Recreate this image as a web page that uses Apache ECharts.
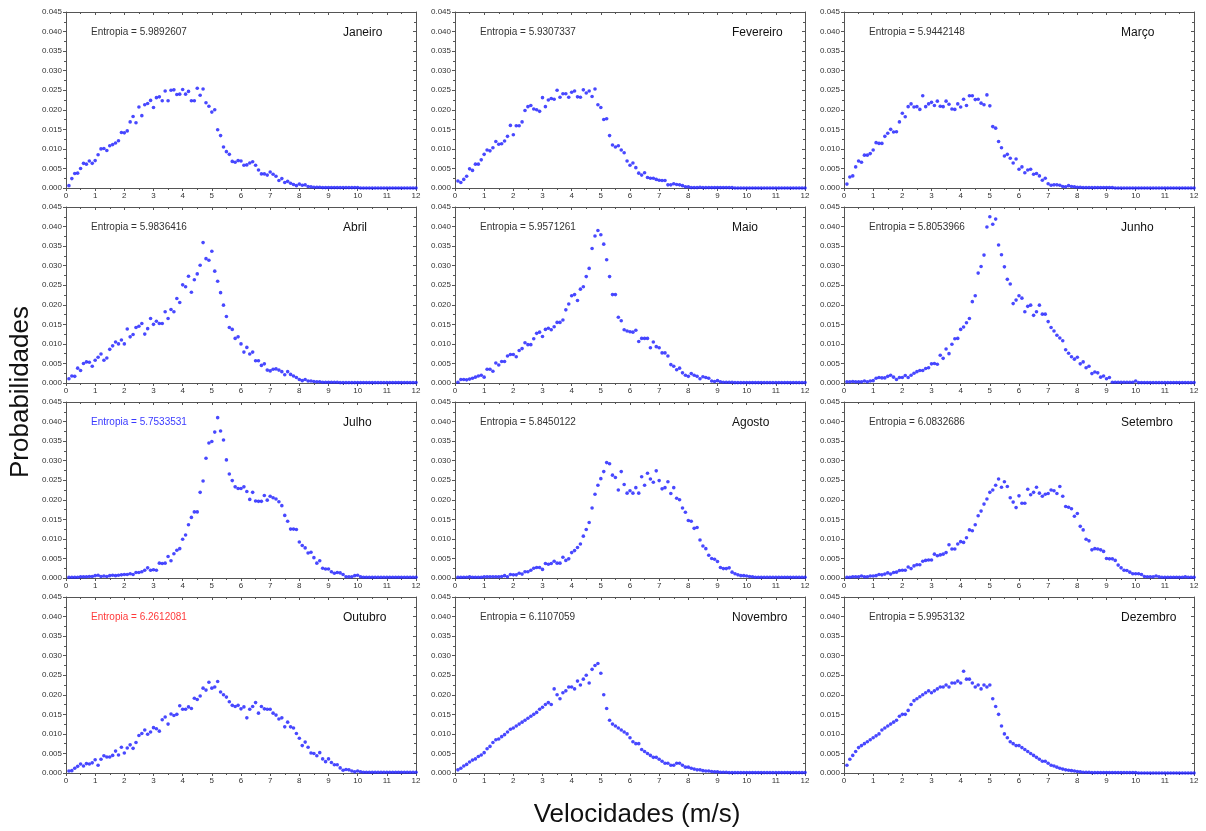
<!DOCTYPE html>
<html>
<head>
<meta charset="utf-8">
<script src="https://cdn.jsdelivr.net/npm/echarts@6/dist/echarts.min.js"></script>
<style>
html, body { margin: 0; padding: 0; background: #fff; }
#box1 { width: 1206px; height: 831px; }
</style>
</head>
<body>
<div id="box1"></div>
<script>
/* distribuição de velocidades por mês */
var months = ['Janeiro', 'Fevereiro', 'Março', 'Abril', 'Maio', 'Junho',
              'Julho', 'Agosto', 'Setembro', 'Outubro', 'Novembro', 'Dezembro'];
var entropias = ['5.9892607', '5.9307337', '5.9442148', '5.9836416', '5.9571261', '5.8053966',
                 '5.7533531', '5.8450122', '6.0832686', '6.2612081', '6.1107059', '5.9953132'];
var xTicks = [0, 1, 2, 3, 4, 5, 6, 7, 8, 9, 10, 11, 12];
var yTicks = [0, 0.005, 0.010, 0.015, 0.020, 0.025, 0.030, 0.035, 0.040, 0.045];

// probabilidades x 1000, bins de 0.1 a 12.0 m/s
var jan = [0.6,2.4,3.7,3.8,5.0,6.3,6.1,6.9,6.3,7.0,
  8.5,10.0,10.1,9.6,10.8,11.1,11.5,12.1,14.2,14.1,
  14.6,16.9,18.3,16.7,20.7,18.5,21.3,21.6,22.4,20.6,
  23.1,23.3,22.3,24.8,22.3,25.0,25.1,23.9,24.0,25.2,
  24.0,24.7,22.3,22.3,25.5,23.7,25.3,21.8,20.9,19.4,
  20.0,14.9,13.4,10.5,9.3,8.6,6.8,6.6,7.0,6.9,
  5.8,5.9,6.4,6.7,5.8,4.6,3.6,3.6,3.3,4.1,
  3.5,3.0,1.9,2.4,1.4,1.7,1.2,0.9,0.6,1.0,
  0.7,0.8,0.4,0.3,0.2,0.2,0.2,0.1,0.1,0.1,
  0.1,0.1,0.1,0.1,0.1,0.1,0.1,0.1,0.1,0.1,
  0,0,0,0,0,0,0,0,0,0,
  0,0,0,0,0,0,0,0,0,0];
var fev = [1.8,1.4,2.2,3.0,4.9,4.5,6.1,6.1,7.2,8.6,
  9.7,9.5,10.3,11.9,11.2,11.3,12.0,13.2,16.0,13.6,
  15.9,15.9,16.9,19.8,20.8,21.1,20.2,20.0,19.6,23.1,
  20.8,22.5,22.9,22.7,25.0,23.2,24.1,24.1,23.2,24.5,
  24.8,23.3,23.2,25.1,24.3,24.8,23.4,25.3,21.3,20.6,
  17.5,17.7,13.4,11.0,10.5,10.8,9.7,9.0,6.9,5.8,
  6.4,5.2,3.8,3.3,3.9,2.7,2.5,2.5,2.2,2.0,
  1.9,1.9,0.8,0.8,1.1,0.9,0.8,0.6,0.3,0.3,
  0.1,0.1,0.1,0.2,0.1,0.1,0.1,0.1,0.1,0.1,
  0.1,0.1,0.1,0.1,0.1,0,0,0,0,0,
  0,0,0,0,0,0,0,0,0,0,
  0,0,0,0,0,0,0,0,0,0];
var mar = [1.0,2.8,3.1,5.4,6.9,6.6,8.4,8.4,8.8,9.7,
  11.6,11.4,11.4,13.2,14.0,15.0,14.3,14.4,16.9,19.1,
  18.2,20.8,21.5,20.7,20.8,20.1,23.6,20.8,21.5,21.9,
  21.1,22.2,20.9,20.8,22.2,21.4,20.2,20.1,21.5,20.7,
  22.7,21.1,23.6,23.6,22.6,22.7,21.7,21.3,23.8,21.0,
  15.7,15.3,11.9,10.3,8.2,8.6,7.6,6.4,7.4,4.8,
  5.4,3.9,4.6,4.8,3.5,3.7,3.1,2.0,2.5,1.1,
  0.7,0.8,0.8,0.7,0.4,0.3,0.6,0.4,0.3,0.2,
  0.2,0.1,0.1,0.1,0.1,0.1,0.1,0.1,0.1,0.1,
  0.1,0.1,0,0,0,0,0,0,0,0,
  0,0,0,0,0,0,0,0,0,0,
  0,0,0,0,0,0,0,0,0,0];
var abr = [1.1,1.8,1.7,3.8,3.2,5.0,5.4,5.3,4.3,5.8,
  6.6,7.4,5.8,6.4,8.6,9.5,10.5,10.0,11.0,10.0,
  13.8,11.8,12.4,14.2,14.5,15.2,12.5,13.9,16.5,15.0,
  15.8,15.2,15.2,18.2,16.5,18.8,18.2,21.6,20.6,25.1,
  24.6,27.3,23.2,26.4,27.9,30.1,35.9,31.8,31.4,33.7,
  28.6,26.0,23.1,19.9,17.0,14.2,13.7,11.4,11.8,10.0,
  7.9,9.1,7.4,7.9,5.7,5.7,4.5,4.9,3.3,3.1,
  3.5,3.6,3.3,2.9,2.1,2.9,2.2,1.8,1.4,0.9,
  0.6,0.9,0.5,0.5,0.4,0.3,0.3,0.2,0.2,0.2,
  0.2,0.2,0.2,0.1,0.1,0.1,0.1,0.1,0.1,0.1,
  0.1,0.1,0.1,0.1,0.1,0.1,0.1,0.1,0.1,0.1,
  0.1,0.1,0.1,0.1,0.1,0.1,0.1,0.1,0.1,0.1];
var mai = [0.2,0.9,0.9,0.8,1.0,1.2,1.5,1.8,2.0,1.5,
  3.5,3.5,3.0,5.1,4.6,5.5,5.5,6.9,7.3,7.3,
  6.7,8.3,8.8,10.3,9.8,9.8,11.3,12.7,13.0,11.9,
  13.7,14.0,13.6,14.4,15.5,15.5,16.1,18.7,20.2,22.3,
  22.6,21.1,24.0,24.6,27.2,29.3,34.4,37.6,39.0,37.9,
  35.5,31.5,27.2,22.6,22.6,16.8,15.9,13.6,13.3,13.1,
  13.0,13.5,10.6,11.4,11.4,11.4,9.0,10.5,9.3,9.0,
  7.7,7.7,6.9,4.7,4.3,3.4,3.8,2.6,2.0,1.7,
  2.4,2.0,1.7,1.1,1.6,1.4,1.2,0.5,0.4,0.6,
  0.3,0.2,0.2,0.2,0.2,0.1,0.1,0.1,0.1,0.1,
  0.1,0.1,0.1,0.1,0.1,0.1,0.1,0.1,0.1,0.1,
  0.1,0.1,0.1,0.1,0.1,0.1,0.1,0.1,0.1,0.1];
var jun = [0.3,0.3,0.4,0.3,0.3,0.3,0.5,0.3,0.5,0.6,
  1.2,1.4,1.3,1.3,1.7,2.0,1.5,0.9,1.4,1.4,
  1.9,1.4,2.0,2.5,2.9,3.2,3.2,3.7,3.9,4.9,
  5.0,4.8,7.1,6.3,8.7,7.5,9.9,11.3,11.4,13.7,
  14.3,15.4,16.5,20.8,22.3,28.1,29.8,32.7,39.9,42.5,
  40.6,41.9,35.3,32.8,29.7,26.5,25.3,20.3,21.2,22.3,
  21.7,18.2,19.6,19.9,17.3,18.2,19.9,17.6,17.6,15.7,
  14.2,13.3,12.2,11.5,10.8,8.5,7.6,6.7,6.1,6.6,
  4.9,5.4,3.9,4.3,2.4,2.8,2.6,1.5,1.8,1.1,
  1.4,0.2,0.2,0.2,0.2,0.2,0.2,0.2,0.2,0.5,
  0.1,0.1,0.1,0.1,0.1,0.1,0.1,0.1,0.1,0.1,
  0.1,0.1,0.1,0.1,0.1,0.1,0.1,0.1,0.1,0.1];
var jul = [0.2,0.2,0.2,0.2,0.3,0.3,0.3,0.4,0.4,0.6,
  0.7,0.4,0.5,0.4,0.6,0.7,0.6,0.7,0.8,0.9,
  0.9,1.1,0.9,1.4,1.4,1.6,2.0,2.6,2.0,2.1,
  2.0,3.8,3.7,3.8,5.5,4.4,6.2,7.1,7.5,9.9,
  11.0,13.6,15.5,16.9,16.9,21.9,24.8,30.6,34.5,34.9,
  37.3,41.0,37.6,35.3,30.2,26.6,24.9,23.3,22.9,22.9,
  23.3,22.1,20.1,21.9,19.7,19.6,19.6,21.1,19.9,20.9,
  20.5,20.2,19.5,18.5,16.0,14.5,12.5,12.5,12.4,9.2,
  8.3,7.7,6.4,6.6,5.2,3.8,4.4,2.5,2.3,2.3,
  1.6,1.2,1.4,1.3,0.9,0.3,0.3,0.3,0.6,0.7,
  0.3,0.2,0.2,0.2,0.2,0.2,0.2,0.2,0.2,0.2,
  0.2,0.2,0.2,0.2,0.2,0.2,0.2,0.2,0.2,0.2];
var ago = [0.2,0.2,0.2,0.2,0.3,0.2,0.2,0.2,0.2,0.3,
  0.3,0.3,0.3,0.3,0.3,0.4,0.6,0.3,0.9,0.8,
  0.8,1.2,1.0,1.6,1.6,2.0,2.5,2.7,2.7,2.2,
  3.7,3.5,3.7,4.3,3.8,3.8,5.3,4.5,4.9,6.5,
  7.0,7.8,8.7,10.7,12.4,14.2,17.9,21.4,23.7,25.4,
  27.2,29.5,29.2,26.3,25.7,22.5,27.2,23.9,21.7,22.3,
  21.7,23.1,21.7,25.9,23.7,26.8,25.3,24.5,27.4,24.9,
  22.8,23.1,24.6,21.6,23.1,20.4,20.0,17.9,16.8,14.7,
  14.5,12.7,12.9,9.7,8.2,7.5,5.8,5.0,4.8,4.2,
  2.7,2.4,2.4,2.6,1.5,1.1,0.8,0.6,0.6,0.5,
  0.4,0.3,0.2,0.2,0.2,0.2,0.2,0.2,0.2,0.2,
  0.2,0.2,0.2,0.2,0.2,0.2,0.2,0.2,0.2,0.2];
var set = [0.2,0.2,0.3,0.3,0.3,0.5,0.3,0.3,0.5,0.5,
  0.6,0.9,0.8,1.0,1.3,1.0,1.4,1.5,1.9,2.0,
  2.0,2.8,2.4,3.1,3.4,3.4,4.3,4.5,4.6,4.6,
  6.1,5.7,5.9,6.1,6.5,8.5,7.4,7.4,8.7,9.3,
  9.1,10.3,12.3,12.1,13.6,15.9,17.1,18.9,20.2,21.9,
  22.5,23.7,25.3,23.2,24.6,23.4,20.5,19.4,18.0,21.0,
  19.1,19.1,22.7,21.3,21.9,23.2,21.7,20.9,21.4,21.6,
  22.5,22.3,21.6,23.4,20.9,18.3,18.1,17.7,15.8,16.5,
  13.2,12.3,9.9,9.5,7.2,7.5,7.4,7.2,6.8,5.0,
  4.9,4.9,4.5,3.3,2.6,2.0,1.9,1.5,1.1,1.1,
  1.1,0.9,0.4,0.3,0.3,0.3,0.5,0.3,0.2,0.2,
  0.2,0.2,0.2,0.2,0.2,0.2,0.3,0.2,0.2,0.2];
var out = [0.5,0.6,1.2,1.7,2.3,1.8,2.4,2.3,2.6,3.4,
  2.0,3.5,4.4,4.1,4.1,4.5,5.6,4.6,6.6,5.1,
  6.4,7.2,6.3,7.8,9.6,10.1,11.0,9.9,10.5,11.6,
  11.3,10.7,13.6,14.3,12.5,15.1,14.7,15.0,17.2,16.3,
  16.3,16.9,16.5,19.1,18.8,19.7,21.7,21.2,23.2,21.7,
  22.0,23.4,20.7,20.0,19.4,18.2,17.3,17.0,17.3,16.4,
  16.9,14.1,16.3,17.0,18.0,15.3,17.0,16.4,16.3,16.3,
  15.3,14.8,13.8,14.1,11.8,13.0,11.8,11.5,10.1,8.9,
  7.0,7.9,6.6,5.1,5.0,4.4,5.2,3.6,2.9,3.6,
  2.7,2.1,2.1,1.3,0.7,0.9,0.8,0.5,0.3,0.5,
  0.3,0.2,0.2,0.2,0.2,0.2,0.2,0.2,0.2,0.2,
  0.2,0.2,0.2,0.2,0.2,0.2,0.2,0.2,0.2,0.2];
var nov = [0.8,1.2,1.8,2.2,2.8,3.3,3.6,4.2,4.6,5.2,
  6.2,6.8,7.8,8.5,8.7,9.3,9.8,10.5,11.2,11.5,
  12.0,12.5,13.0,13.5,14.0,14.5,15.0,15.5,16.3,16.8,
  17.5,18.0,17.5,21.5,20.0,19.0,20.5,21.0,22.0,22.0,
  21.5,23.5,22.5,24.0,25.0,23.0,26.5,27.5,28.0,25.5,
  20.0,16.5,13.5,12.5,12.0,11.5,11.0,10.5,10.0,9.0,
  8.0,7.5,7.5,6.0,5.5,5.0,4.5,4.0,4.0,3.5,
  3.0,2.5,2.5,2.0,2.0,2.5,2.5,2.0,1.5,1.5,
  1.2,1.0,0.8,0.8,0.6,0.5,0.5,0.4,0.3,0.3,
  0.2,0.2,0.2,0.1,0.1,0.1,0.1,0.1,0.1,0.1,
  0.1,0.1,0.1,0.1,0.1,0.1,0.1,0.1,0.1,0.1,
  0.1,0.1,0.1,0.1,0.1,0.1,0.1,0.1,0.1,0.1];
var dez = [2.0,3.5,4.5,5.5,6.5,7.0,7.5,8.0,8.5,9.0,
  9.5,10.0,11.0,11.5,12.0,12.5,13.0,13.5,14.5,15.0,
  15.0,16.0,17.5,18.5,19.0,19.5,20.0,20.5,21.0,20.5,
  21.0,21.5,22.0,22.0,22.5,22.0,23.0,23.0,23.5,23.0,
  26.0,24.0,24.0,23.0,22.0,22.5,21.5,22.5,22.0,22.5,
  19.0,17.0,15.0,12.0,10.0,9.0,8.0,7.5,7.0,7.0,
  6.5,6.0,5.5,5.0,4.5,4.0,3.5,3.0,3.0,2.5,
  2.0,1.8,1.5,1.2,1.0,0.8,0.7,0.6,0.5,0.4,
  0.3,0.2,0.2,0.2,0.1,0.1,0.1,0.1,0.1,0.1,
  0.1,0.1,0.1,0.1,0.1,0.1,0.1,0.1,0.1,0.1,
  0,0,0,0,0,0,0,0,0,0,
  0,0,0,0,0,0,0,0,0,0];
var probs = [jan, fev, mar, abr, mai, jun, jul, ago, set, out, nov, dez];

var dom = document.getElementById("box1");
var myChart = echarts.init(dom);

var colLeft = [66, 455, 844];
var rowTop = [12, 207, 402, 597];
var lineColor = '#555';
var labelFont = { fontSize: 8, color: '#333', fontFamily: 'Liberation Sans, Arial' };

var grids = [], xAxes = [], yAxes = [], series = [], graphics = [];

for (var k = 0; k < 12; k++) {
    var l = colLeft[k % 3], t = rowTop[Math.floor(k / 3)];
    grids.push({ left: l, top: t, width: 350, height: 176 });

    // eixo de baixo (com números) e de cima (só marcas)
    xAxes.push({
        gridIndex: k, type: 'value', position: 'bottom',
        min: xTicks[0], max: xTicks[xTicks.length - 1], interval: 1,
        axisLine: { onZero: false, lineStyle: { color: lineColor, width: 1 } },
        axisTick: { inside: false, length: 3, lineStyle: { color: lineColor } },
        minorTick: { show: true, splitNumber: 2, length: 2, lineStyle: { color: lineColor } },
        axisLabel: Object.assign({ margin: 4 }, labelFont),
        splitLine: { show: false }
    });
    xAxes.push({
        gridIndex: k, type: 'value', position: 'top',
        min: xTicks[0], max: xTicks[xTicks.length - 1], interval: 1,
        axisLine: { onZero: false, lineStyle: { color: lineColor, width: 1 } },
        axisTick: { inside: true, length: 3, lineStyle: { color: lineColor } },
        minorTick: { show: true, splitNumber: 2, length: 2, lineStyle: { color: lineColor } },
        axisLabel: { show: false },
        splitLine: { show: false }
    });
    yAxes.push({
        gridIndex: k, type: 'value', position: 'left',
        min: yTicks[0], max: yTicks[yTicks.length - 1], interval: 0.005,
        axisLine: { onZero: false, lineStyle: { color: lineColor, width: 1 } },
        axisTick: { inside: false, length: 3, lineStyle: { color: lineColor } },
        minorTick: { show: true, splitNumber: 2, length: 2, lineStyle: { color: lineColor } },
        axisLabel: Object.assign({ margin: 4, formatter: function (v) { return v.toFixed(3); } }, labelFont),
        splitLine: { show: false }
    });
    yAxes.push({
        gridIndex: k, type: 'value', position: 'right',
        min: yTicks[0], max: yTicks[yTicks.length - 1], interval: 0.005,
        axisLine: { onZero: false, lineStyle: { color: lineColor, width: 1 } },
        axisTick: { inside: true, length: 3, lineStyle: { color: lineColor } },
        minorTick: { show: true, splitNumber: 2, length: 2, lineStyle: { color: lineColor } },
        axisLabel: { show: false },
        splitLine: { show: false }
    });

    series.push({
        type: 'scatter',
        xAxisIndex: 2 * k, yAxisIndex: 2 * k,
        symbol: 'circle', symbolSize: 3.6,
        itemStyle: { color: '#1a1aff' },
        silent: true,
        data: probs[k].map(function (v, i) { return [(i + 1) / 10, v / 1000]; })
    });

    var entColor = '#333';
    if (months[k] === 'Julho') entColor = '#3a3aff';
    if (months[k] === 'Outubro') entColor = '#ff3a3a';
    graphics.push({
        type: 'text', left: l + 25, top: t + 15,
        style: { text: 'Entropia = ' + entropias[k], fill: entColor,
                 font: '10px "Liberation Sans", Arial' }
    });
    graphics.push({
        type: 'text', left: l + 277, top: t + 15,
        style: { text: months[k], fill: '#111', font: '12px "Liberation Sans", Arial' }
    });
}

// títulos dos eixos
graphics.push({
    type: 'text', x: 637, y: 815,
    style: { text: 'Velocidades (m/s)', fill: '#111', font: '26px "Liberation Sans", Arial',
             align: 'center', verticalAlign: 'middle' }
});
graphics.push({
    type: 'text', x: 21, y: 392, rotation: Math.PI / 2,
    style: { text: 'Probabilidades', fill: '#111', font: '26px "Liberation Sans", Arial',
             align: 'center', verticalAlign: 'middle' }
});

option = {
    animation: false,
    backgroundColor: '#fff',
    grid: grids,
    xAxis: xAxes,
    yAxis: yAxes,
    series: series,
    graphic: graphics
};
if (option && typeof option === "object") {
    myChart.setOption(option, true);
}
</script>
</body>
</html>
